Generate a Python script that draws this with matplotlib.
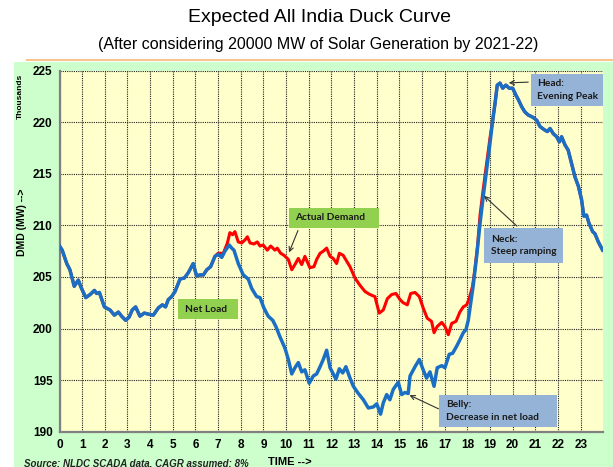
import matplotlib
matplotlib.use("Agg")
import matplotlib.pyplot as plt
from matplotlib.patches import Rectangle, FancyArrowPatch
from matplotlib.lines import Line2D

# ---------------- data (thousands of MW) ----------------
net_hours = [0.0, 0.12, 0.32, 0.46, 0.65, 0.83, 0.95, 1.16, 1.35, 1.54, 1.64, 1.76, 1.98, 2.23, 2.42, 2.6,
             2.74, 2.92, 3.07, 3.21, 3.36, 3.55, 3.74, 3.92, 4.14, 4.36, 4.54, 4.68, 4.8, 4.95, 5.1, 5.32,
             5.51, 5.68, 5.9, 6.05, 6.2, 6.35, 6.5, 6.67, 6.86, 7.01, 7.16, 7.3, 7.49, 7.6, 7.7, 7.89,
             8.11, 8.33, 8.48, 8.7, 8.85, 9.02, 9.21, 9.41, 9.55, 9.73, 9.95, 10.1, 10.25, 10.39, 10.54,
             10.69, 10.83, 11.02, 11.2, 11.35, 11.5, 11.64, 11.79, 11.94, 12.08, 12.2, 12.35, 12.5, 12.64,
             12.82, 12.97, 13.19, 13.41, 13.63, 13.85, 14.0, 14.17, 14.29, 14.44, 14.58, 14.73, 14.95,
             15.1, 15.25, 15.39, 15.47, 15.69, 15.88, 16.05, 16.2, 16.35, 16.53, 16.67, 16.87, 17.01,
             17.2, 17.35, 17.53, 17.67, 17.82, 17.94, 18.04, 18.15, 18.26, 18.41, 18.56, 18.7, 18.85,
             19.0, 19.12, 19.22, 19.32, 19.44, 19.56, 19.7, 19.85, 20.0, 20.15, 20.25, 20.4, 20.54,
             20.69, 20.88, 21.06, 21.2, 21.38, 21.53, 21.65, 21.79, 21.94, 22.06, 22.16, 22.31, 22.45,
             22.6, 22.75, 22.9, 23.04, 23.14, 23.26, 23.37, 23.53, 23.63, 23.78, 23.97]
net_load = [208.0, 207.6, 206.3, 205.7, 204.1, 204.7, 204.0, 203.0, 203.3, 203.7, 203.4, 203.5, 202.1, 201.8,
            201.3, 201.6, 201.2, 200.8, 201.1, 201.8, 202.1, 201.2, 201.5, 201.4, 201.3, 202.0, 202.3,
            202.1, 202.8, 203.1, 203.6, 204.8, 204.9, 205.4, 206.3, 205.1, 205.2, 205.2, 205.7, 206.0,
            207.0, 207.2, 206.9, 207.5, 208.1, 207.8, 207.6, 206.3, 205.2, 204.8, 203.9, 203.1, 203.0,
            202.0, 201.2, 200.8, 200.2, 199.2, 198.1, 197.0, 195.6, 196.2, 196.7, 195.8, 196.0, 194.7,
            195.4, 195.6, 196.3, 197.0, 197.9, 196.2, 195.6, 195.1, 196.1, 195.7, 196.3, 195.2, 194.4,
            193.7, 193.1, 192.3, 192.4, 192.7, 191.7, 192.8, 193.6, 193.1, 194.1, 194.8, 193.6, 193.8,
            193.7, 195.4, 196.3, 197.0, 196.0, 195.2, 195.8, 194.4, 196.2, 196.4, 196.2, 197.5, 197.6,
            198.3, 198.9, 199.6, 199.9, 200.8, 202.5, 204.2, 207.0, 210.2, 212.8, 215.4, 218.0, 220.2,
            221.8, 223.6, 223.8, 223.3, 223.6, 223.3, 223.3, 222.6, 222.2, 221.5, 221.0, 220.7, 220.5,
            220.2, 219.6, 219.3, 219.1, 219.4, 218.9, 218.6, 218.1, 218.6, 217.8, 217.3, 216.0, 214.7,
            213.8, 212.5, 210.9, 211.0, 210.2, 209.4, 209.2, 208.4, 207.6]

demand_hours = [0.0, 0.12, 0.32, 0.46, 0.65, 0.83, 0.95, 1.16, 1.35, 1.54, 1.64, 1.76, 1.98, 2.23, 2.42, 2.6,
                2.74, 2.92, 3.07, 3.21, 3.36, 3.55, 3.74, 3.92, 4.14, 4.36, 4.54, 4.68, 4.8, 4.95, 5.1,
                5.32, 5.51, 5.68, 5.9, 6.05, 6.2, 6.35, 6.5, 6.67, 6.86, 7.0, 7.23, 7.41, 7.52, 7.64,
                7.74, 7.89, 8.04, 8.19, 8.29, 8.41, 8.58, 8.73, 8.85, 8.99, 9.17, 9.32, 9.51, 9.61, 9.76,
                9.91, 10.1, 10.25, 10.39, 10.54, 10.69, 10.83, 11.05, 11.23, 11.35, 11.5, 11.64, 11.79,
                11.94, 12.08, 12.23, 12.35, 12.52, 12.82, 13.04, 13.26, 13.48, 13.7, 13.92, 14.11, 14.29,
                14.47, 14.66, 14.85, 15.03, 15.17, 15.35, 15.5, 15.69, 15.88, 16.05, 16.23, 16.42, 16.53,
                16.67, 16.87, 17.01, 17.16, 17.31, 17.5, 17.67, 17.82, 17.97, 18.08, 18.23, 18.33, 18.45,
                18.56, 18.7, 18.85, 19.0, 19.12, 19.22, 19.32, 19.44, 19.56, 19.7, 19.85, 20.0, 20.15,
                20.25, 20.4, 20.54, 20.69, 20.88, 21.06, 21.2, 21.38, 21.53, 21.65, 21.79, 21.94, 22.06,
                22.16, 22.31, 22.45, 22.6, 22.75, 22.9, 23.04, 23.14, 23.26, 23.37, 23.53, 23.63, 23.78,
                23.97]
actual_demand = [208.0, 207.6, 206.3, 205.7, 204.1, 204.7, 204.0, 203.0, 203.3, 203.7, 203.4, 203.5, 202.1,
                 201.8, 201.3, 201.6, 201.2, 200.8, 201.1, 201.8, 202.1, 201.2, 201.5, 201.4, 201.3, 202.0,
                 202.3, 202.1, 202.8, 203.1, 203.6, 204.8, 204.9, 205.4, 206.3, 205.1, 205.2, 205.2, 205.7,
                 206.0, 207.0, 207.3, 207.3, 208.3, 209.3, 209.1, 209.4, 208.4, 208.3, 208.6, 208.9, 208.3,
                 208.2, 208.4, 208.0, 208.1, 207.6, 208.0, 207.6, 207.8, 207.3, 207.1, 206.7, 205.7, 206.2,
                 206.8, 206.2, 207.0, 205.9, 206.0, 206.7, 207.3, 207.5, 207.8, 207.0, 206.8, 206.3, 207.3,
                 207.1, 206.0, 204.9, 204.2, 203.6, 203.3, 203.1, 201.5, 201.8, 202.9, 203.3, 203.4, 202.8,
                 202.5, 202.3, 203.4, 203.5, 203.1, 202.0, 201.0, 200.7, 199.6, 200.2, 200.6, 200.2, 199.4,
                 200.5, 200.7, 201.6, 202.1, 202.3, 202.9, 204.1, 205.7, 208.0, 211.0, 213.5, 216.0, 218.5,
                 220.2, 221.8, 223.6, 223.8, 223.3, 223.6, 223.3, 223.3, 222.6, 222.2, 221.5, 221.0, 220.7,
                 220.5, 220.2, 219.6, 219.3, 219.1, 219.4, 218.9, 218.6, 218.1, 218.6, 217.8, 217.3, 216.0,
                 214.7, 213.8, 212.5, 210.9, 211.0, 210.2, 209.4, 209.2, 208.4, 207.6]

x_ticks = list(range(0, 24))
y_ticks = [190, 195, 200, 205, 210, 215, 220, 225]

# ---------------- figure ----------------
W, H = 613, 467
plt.rcParams["font.family"] = ["Liberation Sans", "DejaVu Sans"]
fig = plt.figure(figsize=(W / 100, H / 100), dpi=100)
fig.patch.set_facecolor("white")

def fx(px):
    return px / W

def fy(py):
    return 1 - py / H

# green chart area background + orange top line (behind the axes)
fig.patches.append(Rectangle((fx(14), 0), 1 - fx(14), fy(61.5), transform=fig.transFigure,
                             facecolor="#ccffcc", edgecolor="none", zorder=-10))
fig.lines.append(Line2D([fx(27), 1], [fy(60), fy(60)], transform=fig.transFigure,
                        color="#f8c58c", lw=1.5, zorder=-9))

ax = fig.add_axes([fx(59.5), fy(431.7), fx(603.3) - fx(59.5), fy(70.7) - fy(431.7)])
ax.set_zorder(1)
ax.set_facecolor("#ffffcc")
ax.set_xlim(0, 24)
ax.set_ylim(190, 225)
ax.set_xticks(x_ticks)
ax.set_yticks(y_ticks)
ax.set_xticklabels([str(t) for t in x_ticks], fontweight="bold", fontsize=8.5)
ax.set_yticklabels([str(t) for t in y_ticks], fontweight="bold", fontsize=8.5)
ax.tick_params(length=0, pad=5)
ax.grid(True, color="#222222", linestyle=(0, (1, 1)), linewidth=0.8)
ax.set_axisbelow(True)
for s in ["left", "bottom"]:
    ax.spines[s].set_color("#808080")
    ax.spines[s].set_linewidth(1.6)
for s in ["top", "right"]:
    ax.spines[s].set_visible(False)

ax.plot(demand_hours, actual_demand, color="#ff0000", lw=2.2, zorder=3)
ax.plot(net_hours, net_load, color="#1a6fc4", lw=2.5, zorder=4)

# titles
fig.text(fx(320), fy(18), "Expected All India Duck Curve", ha="center", va="center", fontsize=14)
fig.text(fx(318), fy(44), "(After considering 20000 MW of Solar Generation by 2021-22)", ha="center",
         va="center", fontsize=11.5)

# axis labels
fig.text(fx(20), fy(96), "Thousands", rotation=90, ha="center", va="center", fontsize=6, fontweight="bold")
fig.text(fx(22), fy(222), "DMD (MW) -->", rotation=90, ha="center", va="center", fontsize=7.5,
         fontweight="bold")
fig.text(fx(268), fy(462), "TIME -->", ha="left", va="center", fontsize=8, fontweight="bold")
fig.text(fx(24), fy(463), "Source: NLDC SCADA data, CAGR assumed: 8%", ha="left", va="center",
         fontsize=7, fontweight="bold", style="italic", color="#222222")

# annotation boxes
box_font = ["Lato", "DejaVu Sans"]

def add_box(x0, y0, x1, y1, color, text, tx, ty):
    fig.patches.append(Rectangle((fx(x0), fy(y1)), fx(x1) - fx(x0), fy(y0) - fy(y1),
                                 transform=fig.transFigure, facecolor=color, edgecolor="none", zorder=5))
    fig.text(fx(tx), fy(ty), text, ha="left", va="center", fontsize=7.3, fontweight="bold",
             family=box_font, color="#1a1a1a", zorder=6, linespacing=1.55)

def add_arrow(x0, y0, x1, y1):
    fig.add_artist(FancyArrowPatch(
        (fx(x0), fy(y0)), (fx(x1), fy(y1)), transform=fig.transFigure,
        arrowstyle="->", mutation_scale=8, color="#333333", lw=0.8, zorder=6))

add_box(289, 208, 379, 228, "#92d050", "Actual Demand", 295, 218)
add_arrow(299, 228, 288, 255)
add_box(178, 299, 238, 319, "#92d050", "Net Load", 185, 309.5)
add_box(531, 74, 603, 106, "#95b3d7", "Head:\nEvening Peak", 537, 90)
add_arrow(531, 82, 506, 83)
add_box(484, 228, 563, 263, "#95b3d7", "Neck:\nSteep ramping", 491, 245.5)
add_arrow(519, 228, 482, 194)
add_box(439, 395, 557, 427, "#95b3d7", "Belly:\nDecrease in net load", 446, 411)
add_arrow(441, 410, 407, 394)

fig.savefig("out.png", dpi=100, facecolor=fig.get_facecolor())
